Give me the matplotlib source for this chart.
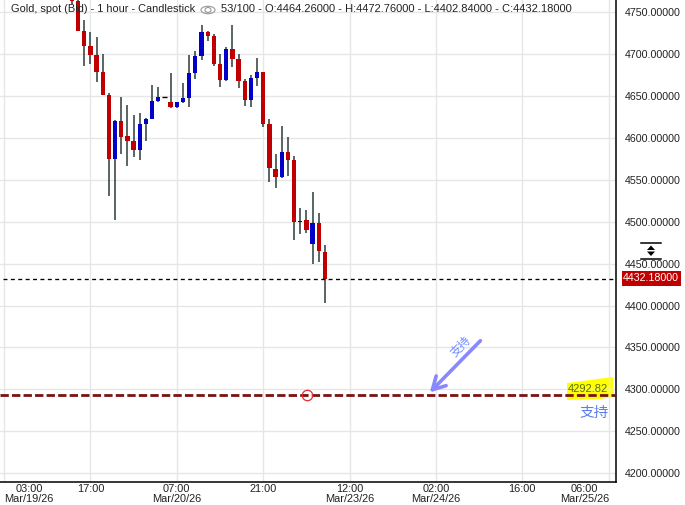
import matplotlib
matplotlib.use("Agg")
import matplotlib.pyplot as plt
from matplotlib.patches import Polygon, Ellipse

plt.rcParams['font.family'] = ['Liberation Sans', 'Noto Sans CJK SC']

# Candles, first visible one is bar 11.
first_bar = 11
opens = [4772, 4763.7, 4727.9, 4710, 4699.2, 4678.9, 4651.4, 4575, 4620.4, 4602.5,
         4596.5, 4585.8, 4616.8, 4622.8, 4644.3, 4648.6, 4643, 4637, 4643, 4647.9,
         4677.7, 4698, 4726.7, 4722, 4688.5, 4669.4, 4706.4, 4694.4, 4668, 4645.5,
         4671.7, 4678.9, 4616.8, 4563.1, 4553.5, 4583.4, 4573.8, 4500, 4502, 4473.5,
         4498.6, 4464.26]
closes = [4763.7, 4728.3, 4710, 4699.2, 4678.9, 4651.4, 4575, 4620.4, 4601.3, 4596.5,
          4585.8, 4616.8, 4622.8, 4644.3, 4649, 4648.6, 4637, 4643, 4647.9, 4677.7,
          4698, 4726.7, 4722, 4688.5, 4669.4, 4706.4, 4694.4, 4668, 4645.5, 4671.7,
          4678.9, 4616.8, 4564.3, 4553.5, 4583.4, 4573.8, 4499.7, 4501.2, 4490, 4498.6,
          4465.2, 4432.18]
highs = [4775, 4775, 4741, 4726.7, 4720.7, 4700.4, 4653.8, 4621.6, 4649, 4639.5,
         4627.6, 4630, 4624, 4663.4, 4661, 4649, 4677.7, 4643, 4665.8, 4699,
         4704, 4735, 4728, 4724.3, 4700.4, 4708.8, 4735, 4700.4, 4670.5, 4675.3,
         4695.6, 4678.9, 4622.8, 4581, 4614.4, 4601.3, 4578.6, 4517, 4514, 4535.6,
         4510.5, 4472.76]
lows = [4760, 4728.3, 4686, 4688.5, 4667, 4651.4, 4530.8, 4502.2, 4581, 4566.7,
        4577.4, 4573.8, 4596.5, 4622.8, 4643, 4648.6, 4636, 4636, 4642, 4637,
        4670.5, 4693, 4716, 4686, 4661, 4668, 4685, 4660, 4638.3, 4637,
        4662, 4613.2, 4547.6, 4540.4, 4552.3, 4554.7, 4478, 4485, 4486.6, 4449.7,
        4452, 4402.84]

y_ticks = list(range(4200, 4800, 50))
x_ticks = [0, 14, 28, 42, 56, 70, 84, 98]
x_labels = ["03:00\nMar/19/26", "17:00", "07:00\nMar/20/26", "21:00",
            "12:00\nMar/23/26", "02:00\nMar/24/26", "16:00", "06:00\nMar/25/26"]
x_label_pos = [4.04, 14, 28, 42, 56, 70, 84, 94.1]

last_price = 4432.18
support = 4292.82
header = "Gold, spot (Bid) - 1 hour - Candlestick"
header2 = "53/100 - O:4464.26000 - H:4472.76000 - L:4402.84000 - C:4432.18000"

fig = plt.figure(figsize=(6.85, 5.05), dpi=100, facecolor="white")
ax = fig.add_axes([0, 1 - 481.7 / 505, 615.5 / 685, 481.7 / 505])
ax.set_xlim(-0.66, 99.1)
ax.set_ylim(4189.7, 4764.8)
ax.set_zorder(3)
ax.set_facecolor("none")

ax.grid(True, color="#e6e6e6", lw=1.0)
ax.set_axisbelow(True)
ax.set_xticks(x_ticks)
ax.set_xticklabels([])
ax.set_yticks(y_ticks)
ax.set_yticklabels([f"{v:.5f}" for v in y_ticks], fontsize=7.7, color="#222222")
ax.yaxis.tick_right()
ax.tick_params(length=0)
ax.tick_params(axis="y", pad=7)
for s in ["top", "left"]:
    ax.spines[s].set_visible(False)
for s in ["right", "bottom"]:
    ax.spines[s].set_linewidth(1.1)

trans = ax.get_xaxis_transform()
for p, lab in zip(x_label_pos, x_labels):
    ax.text(p, -0.004, lab, transform=trans, ha="center", va="top", fontsize=7.9,
            color="#222222", linespacing=1.02, clip_on=False)

# candles
for i in range(len(opens)):
    x = first_bar + i
    o, c = opens[i], closes[i]
    ax.vlines(x, lows[i], highs[i], color="#2c3a3c", lw=1.1, zorder=3)
    if o == c:
        ax.hlines(o, x - 0.33, x + 0.33, color="black", lw=1.0, zorder=4)
        continue
    col = "#c00000" if c < o else "#0000c8"
    ax.bar(x, abs(c - o), bottom=min(o, c), width=0.7, color=col, lw=0, zorder=4)

# last price line and tag
ax.axhline(last_price, xmin=0.005, color="black", lw=0.95, ls=(0, (3, 2.6)), zorder=5)
fig.patches.append(plt.Rectangle((622 / 685, 1 - 285.5 / 505), 58.5 / 685, 14.5 / 505,
                                 transform=fig.transFigure, color="#c00000", lw=0, zorder=6))
fig.text(651 / 685, 1 - 278.4 / 505, f"{last_price:.5f}", color="white", fontsize=7.7,
         ha="center", va="center", zorder=7)

# support highlight
px = fig.transFigure
fig.patches.append(Polygon([(567 / 685, 1 - 383 / 505), (613 / 685, 1 - 377 / 505),
                            (614 / 685, 1 - 396 / 505), (601 / 685, 1 - 399 / 505),
                            (567 / 685, 1 - 400 / 505)],
                           transform=px, color="#ffff00", lw=0, zorder=2))
ax.axhline(support, color="#7a1212", lw=2.0, ls=(0, (3.0, 1.15)), zorder=5)
ax.plot([49.1], [support], marker="o", ms=7.5, mfc="none", mec="#e03030", mew=0.9, zorder=6)
ax.text(97.95, 4300.5, f"{support:.2f}", color="#5a7000", fontsize=8.0, ha="right", va="center", zorder=7)
ax.text(95.7, 4271.5, "支持", color="#5b7cf0", fontsize=10.5, ha="center", va="center", zorder=7)

# arrow
ax.annotate("", xy=(69.0, support + 3.5), xytext=(77.2, 4358),
            arrowprops=dict(arrowstyle="->,head_length=0.9,head_width=0.5", color="#8888ff",
                            lw=2.6, shrinkA=0, shrinkB=0), zorder=6)
ax.text(74.0, 4351, "支持", color="#6f8cff", fontsize=8.5, rotation=45,
        ha="center", va="center", zorder=7)

# header
fig.text(11 / 685, 1 - 9 / 505, header, fontsize=7.95, color="#222222", va="center", zorder=8)
fig.text(221 / 685, 1 - 9 / 505, header2, fontsize=7.98, color="#222222", va="center", zorder=8)
fig.patches.append(Ellipse((208 / 685, 1 - 10 / 505), 14 / 685, 7.5 / 505, transform=px,
                           fill=False, ec="#999999", lw=0.8, zorder=8))
fig.patches.append(Ellipse((208 / 685, 1 - 10 / 505), 6 / 685, 5 / 505, transform=px,
                           fill=False, ec="#999999", lw=0.8, zorder=8))

# resize handle on the price scale
for yy in [243, 258.5]:
    fig.add_artist(plt.Line2D([641 / 685, 661 / 685], [1 - yy / 505] * 2, color="black", lw=1.1, zorder=9))
fig.patches.append(Polygon([(647 / 685, 1 - 250 / 505), (655 / 685, 1 - 250 / 505), (651 / 685, 1 - 245.5 / 505)],
                           transform=px, color="black", lw=0, zorder=9))
fig.patches.append(Polygon([(647 / 685, 1 - 251.5 / 505), (655 / 685, 1 - 251.5 / 505), (651 / 685, 1 - 256 / 505)],
                           transform=px, color="black", lw=0, zorder=9))

fig.savefig("out.png", dpi=100)
